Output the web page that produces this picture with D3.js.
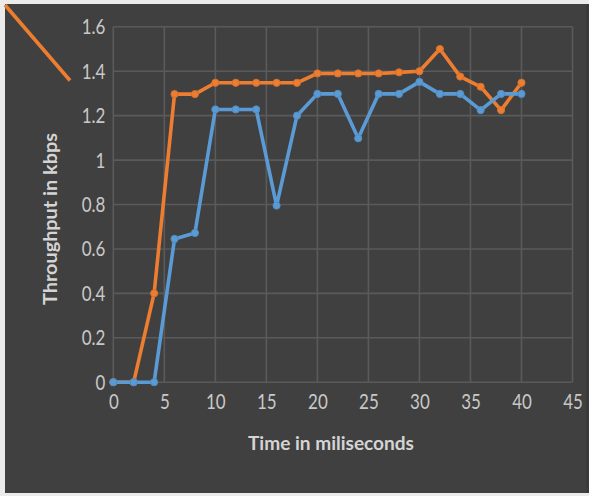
<!DOCTYPE html>
<html><head><meta charset="utf-8">
<script src="https://cdn.jsdelivr.net/npm/d3@7"></script>
<style>html,body{margin:0;padding:0;background:#ebebeb;}svg{display:block;}</style>
</head><body>
<svg id="c" width="589" height="496"></svg>
<script>
const times = [0,2,4,6,8,10,12,14,16,18,20,22,24,26,28,30,32,34,36,38,40];
const seriesBlue = [0,0,0,0.645,0.672,1.228,1.228,1.228,0.795,1.2,1.298,1.298,1.098,1.298,1.298,1.352,1.298,1.298,1.225,1.298,1.298];
const seriesOrange = [0,0,0.4,1.297,1.297,1.348,1.348,1.348,1.348,1.348,1.39,1.39,1.39,1.39,1.395,1.4,1.5,1.376,1.33,1.225,1.348];
const xTicks = [0,5,10,15,20,25,30,35,40,45];
const yTicks = [0,0.2,0.4,0.6,0.8,1,1.2,1.4,1.6];
const xTitle = "Time in miliseconds";
const yTitle = "Throughput in kbps";

const svg = d3.select("#c");
svg.append("rect").attr("x",5).attr("y",4).attr("width",581).attr("height",489).attr("fill","#404040");
svg.append("rect").attr("x",586).attr("y",4).attr("width",3).attr("height",489).attr("fill","#3a3a3a");

const x = d3.scaleLinear().domain([0,45]).range([113.3,572.5]);
const y = d3.scaleLinear().domain([0,1.6]).range([382.2,26.8]);

const grid = svg.append("g");
grid.selectAll("line.h").data(yTicks).join("line")
  .attr("x1",x(0)).attr("x2",x(45)).attr("y1",d=>y(d)).attr("y2",d=>y(d))
  .attr("stroke","#5a5a5a").attr("stroke-width",1.6);
grid.selectAll("line.v").data(xTicks).join("line")
  .attr("y1",y(0)).attr("y2",y(1.6)).attr("x1",d=>x(d)).attr("x2",d=>x(d))
  .attr("stroke","#5a5a5a").attr("stroke-width",1.6);

const font = "Lato, 'Open Sans', sans-serif";
const sx = 0.77;
const xAxis = svg.append("g").attr("transform",`translate(0,${y(0)})`)
  .call(d3.axisBottom(x).tickValues(xTicks).tickSize(0).tickPadding(11).tickFormat(d3.format("d")));
xAxis.select(".domain").remove();
xAxis.selectAll("text").attr("fill","#c8c8c8").style("font-family",font).style("font-size","22px")
  .attr("transform",`scale(${sx},1)`);

const yAxis = svg.append("g").attr("transform",`translate(${x(0)},0)`)
  .call(d3.axisLeft(y).tickValues(yTicks).tickSize(0).tickPadding(8).tickFormat(d=>d3.format("~g")(d)));
yAxis.select(".domain").remove();
yAxis.selectAll("text").attr("fill","#c8c8c8").style("font-family",font).style("font-size","22px")
  .attr("x",-8/sx).attr("transform",`scale(${sx},1)`);

const line = d3.line().x(d=>x(d[0])).y(d=>y(d[1]));
function drawSeries(vals, color){
  const pts = times.map((t,i)=>[t,vals[i]]);
  svg.append("path").datum(pts).attr("d",line).attr("fill","none")
    .attr("stroke",color).attr("stroke-width",3.6).attr("stroke-linejoin","round");
  svg.append("g").selectAll("circle").data(pts).join("circle")
    .attr("cx",d=>x(d[0])).attr("cy",d=>y(d[1])).attr("r",3.6)
    .attr("fill",color).attr("stroke",d3.color(color).darker(0.3)).attr("stroke-width",1);
}
drawSeries(seriesOrange,"#ED7D31");
drawSeries(seriesBlue,"#5B9BD5");

// stray legend line top-left
svg.append("line").attr("x1",5).attr("y1",5).attr("x2",70).attr("y2",80.5)
  .attr("stroke","#ED7D31").attr("stroke-width",3.6);

svg.append("text").attr("x",331).attr("y",450).attr("text-anchor","middle")
  .attr("textLength",166).attr("lengthAdjust","spacingAndGlyphs")
  .attr("fill","#d4d4d4").style("font-family",font).style("font-weight","bold").style("font-size","19px")
  .text(xTitle);
svg.append("text").attr("transform","translate(57,219) rotate(-90)").attr("text-anchor","middle")
  .attr("textLength",172).attr("lengthAdjust","spacingAndGlyphs")
  .attr("fill","#d4d4d4").style("font-family",font).style("font-weight","bold").style("font-size","18px")
  .text(yTitle);
</script>
</body></html>
